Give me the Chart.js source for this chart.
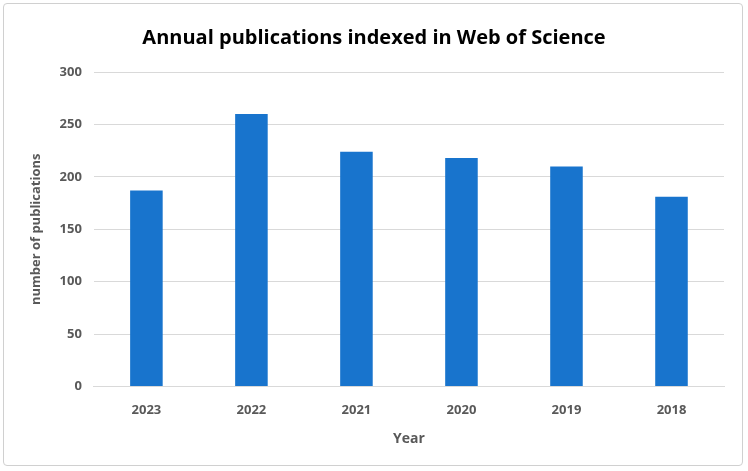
<!DOCTYPE html>
<html>
<head>
<meta charset="utf-8">
<script src="https://cdn.jsdelivr.net/npm/chart.js@4/dist/chart.umd.min.js"></script>
<style>
  body { margin: 0; background: #fff; }
  #wrap { position: absolute; left: 3px; top: 3px; width: 740px; height: 463px;
          border: 1px solid #d0d0d0; border-radius: 4px; box-sizing: border-box; }
</style>
</head>
<body>
<div id="wrap"><canvas id="chart"></canvas></div>
<script>
const years = ['2023', '2022', '2021', '2020', '2019', '2018'];
const publications = [187, 260, 224, 218, 210, 181];
const yTicks = [0, 50, 100, 150, 200, 250, 300];

const gray = '#595959';
const ctx = document.getElementById('chart').getContext('2d');
new Chart(ctx, {
    type: 'bar',
    data: {
        labels: years,
        datasets: [{
            data: publications,
            backgroundColor: '#1874cd',
            barPercentage: 0.62,
            categoryPercentage: 0.5
        }]
    },
    options: {
        responsive: true,
        maintainAspectRatio: false,
        animation: false,
        layout: { padding: { left: 20, right: 18, top: 12, bottom: 14 } },
        plugins: {
            legend: { display: false },
            tooltip: { enabled: false },
            title: {
                display: true,
                text: 'Annual publications indexed in Web of Science',
                color: '#000',
                font: { family: 'Open Sans', size: 20, weight: 'bold' },
                padding: { top: 10, bottom: 22 }
            }
        },
        scales: {
            y: {
                min: 0, max: 300,
                afterBuildTicks: axis => { axis.ticks = yTicks.map(v => ({ value: v })); },
                grid: { color: '#d9d9d9', drawTicks: false },
                border: { display: false },
                ticks: { color: gray, padding: 12, font: { family: 'Open Sans', size: 13, weight: 'bold' } },
                title: { display: true, text: 'number of publications', color: gray,
                         font: { family: 'Open Sans', size: 13, weight: 'bold' } }
            },
            x: {
                grid: { display: false },
                border: { color: '#d9d9d9' },
                ticks: { color: gray, padding: 8, font: { family: 'Open Sans', size: 13, weight: 'bold' } },
                title: { display: true, text: 'Year', color: gray,
                         font: { family: 'Open Sans', size: 14, weight: 'bold' } }
            }
        }
    }
});
</script>
</body>
</html>
